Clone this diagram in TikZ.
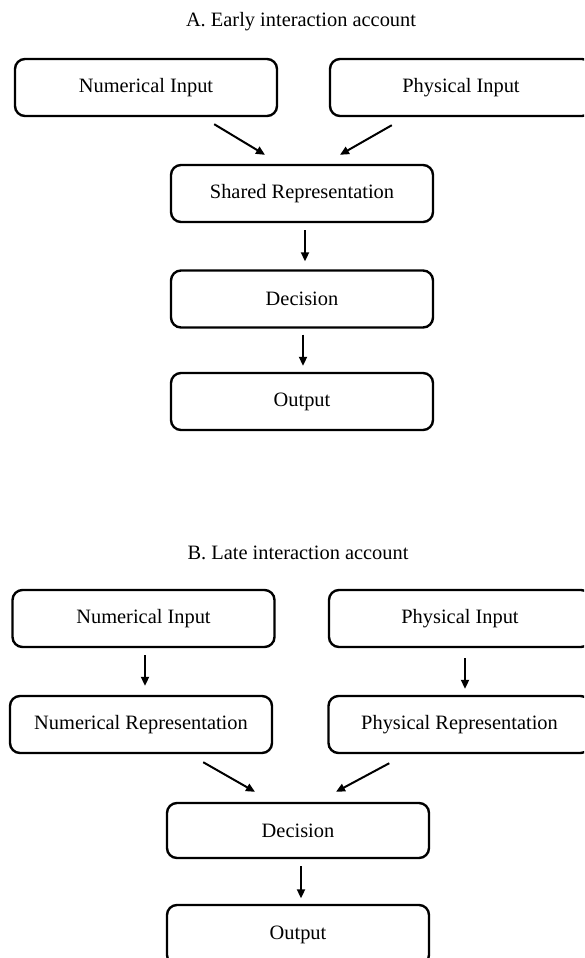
\documentclass[tikz,border=0pt]{standalone}
\usepackage{fontspec}
\setmainfont{Liberation Serif}
\usetikzlibrary{arrows.meta}

\begin{document}
\begin{tikzpicture}[x=1pt,y=-1pt,
	box/.style={draw=black,fill=white,line width=2.4pt,rounded corners=10pt,minimum width=262pt,minimum height=57pt,inner sep=0pt,font=\fontsize{20.4pt}{24pt}\selectfont},
	heading/.style={inner sep=0pt,font=\fontsize{20.4pt}{24pt}\selectfont},
	arrow/.style={line width=2pt,-{Triangle[length=9pt,width=8pt]}}]
	\clip (0,0) rectangle (584,958);
	\node[heading] (titleA) at (301,22) {A. Early interaction account};
	\node[box] (numA) at (146,87.5) {Numerical Input};
	\node[box] (physA) at (461,87.5) {Physical Input};
	\node[box] (sharedA) at (302,193.5) {Shared Representation};
	\node[box] (decA) at (302,299) {Decision};
	\node[box] (outA) at (302,401.5) {Output};
	\node[heading] (titleB) at (298,553) {B. Late interaction account};
	\node[box] (numB) at (143.5,618.5) {Numerical Input};
	\node[box] (physB) at (460,618.5) {Physical Input};
	\node[box] (numrepB) at (141,724.5) {Numerical Representation};
	\node[box] (physrepB) at (459.5,724.5) {Physical Representation};
	\node[box,minimum height=55pt] (decB) at (298,830.5) {Decision};
	\node[box,minimum height=60pt] (outB) at (298,935) {Output};
	\draw[arrow] ([xshift=-64pt,yshift=-7pt]numA.south east) -- ([xshift=-37pt,yshift=9pt]sharedA.north);
	\draw[arrow] ([xshift=63pt,yshift=-8pt]physA.south west) -- ([xshift=38pt,yshift=9pt]sharedA.north);
	\draw[arrow,shorten <=7pt,shorten >=8pt] ([xshift=3pt]sharedA.south) -- ([xshift=3pt]decA.north);
	\draw[arrow,shorten <=6pt,shorten >=6pt] ([xshift=1pt]decA.south) -- ([xshift=1pt]outA.north);
	\draw[arrow,shorten <=7pt,shorten >=9pt] ([xshift=1.5pt]numB.south) -- ([xshift=4pt]numrepB.north);
	\draw[arrow,shorten <=10pt,shorten >=6pt] ([xshift=5pt]physB.south) -- ([xshift=5.5pt]physrepB.north);
	\draw[arrow] ([xshift=-70pt,yshift=-8pt]numrepB.south east) -- ([xshift=-43pt,yshift=10pt]decB.north);
	\draw[arrow] ([xshift=62pt,yshift=-9pt]physrepB.south west) -- ([xshift=38pt,yshift=10pt]decB.north);
	\draw[arrow,shorten <=7pt,shorten >=5.5pt] ([xshift=3pt]decB.south) -- ([xshift=3pt]outB.north);
\end{tikzpicture}
\end{document}
